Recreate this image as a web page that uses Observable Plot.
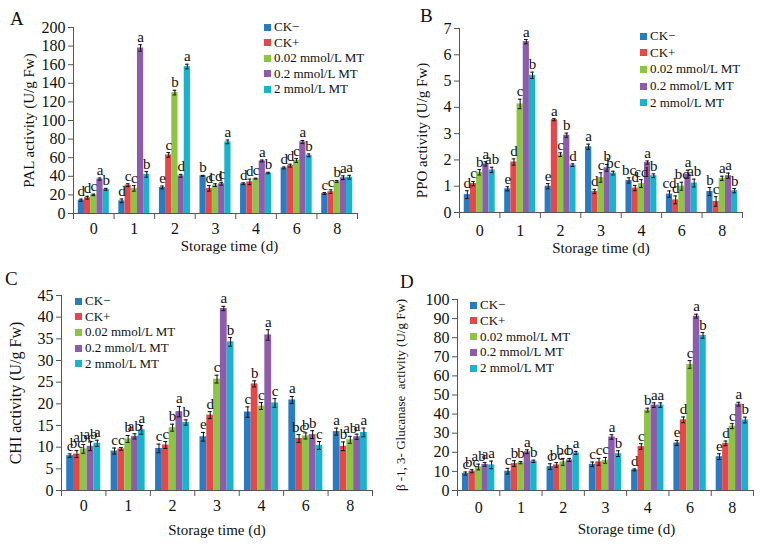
<!DOCTYPE html>
<html><head><meta charset="utf-8">
<script src="https://cdn.jsdelivr.net/npm/d3@7"></script>
<script src="https://cdn.jsdelivr.net/npm/@observablehq/plot@0.6"></script>
<style>
body{margin:0;background:#fff;}
#wrap{position:relative;width:760px;height:544px;font-family:"Liberation Serif",serif;color:#111;overflow:hidden;}
.panel{position:absolute;width:380px;height:272px;}
.panel svg{position:absolute;left:0;top:0;}
.plabel{position:absolute;font-size:19px;line-height:1;}
.leg{position:absolute;font-size:13px;line-height:1;white-space:nowrap;}
.leg span.sw{display:inline-block;width:7px;height:7px;margin-right:3px;vertical-align:middle;position:relative;top:-1px;}
</style></head>
<body><div id="wrap"></div>
<script>
// ---------- data ----------
const days = ["0", "1", "2", "3", "4", "6", "8"];
const series = ["CK\u2212", "CK+", "0.02 mmol/L MT", "0.2 mmol/L MT", "2 mmol/L MT"];
const colors = ["#2a7cc2", "#e5474a", "#8cc541", "#8d5caa", "#19b3cd"];

// PAL (rows = series, columns = days)
const palMean = [
  [14.3, 13.6, 28, 40.5, 32, 49, 21.5],
  [17, 30.5, 63, 27, 34, 51.5, 23.5],
  [20, 27, 130, 30.5, 37.5, 57, 34.5],
  [37, 178, 40.5, 32, 56.5, 77, 38.5],
  [26, 42, 158, 77, 43.5, 62.5, 39]
];
const palErr = [
  [1.2, 2, 1.5, 0.5, 1, 1, 1],
  [1.5, 1.5, 2.5, 3, 3, 1.5, 2],
  [0.8, 3, 2.5, 1.5, 0.5, 2, 1],
  [1.2, 3.5, 1.5, 1.5, 1, 1.5, 2],
  [1, 3, 2.5, 2, 0.8, 1.5, 2]
];
const palLetters = [
  ["d", "d", "e", "b", "d", "d", "c"],
  ["d", "c", "c", "d", "d", "d", "c"],
  ["c", "c", "b", "cd", "c", "c", "b"],
  ["a", "a", "d", "c", "a", "a", "a"],
  ["b", "b", "a", "a", "b", "b", "a"]
];
const palTicks = [0, 20, 40, 60, 80, 100, 120, 140, 160, 180, 200];

// PPO
const ppoMean = [
  [0.68, 0.9, 1.0, 2.5, 1.22, 0.7, 0.8],
  [1.1, 1.92, 3.53, 0.8, 0.93, 0.48, 0.42],
  [1.53, 4.13, 2.2, 1.33, 1.1, 1.0, 1.3],
  [1.85, 6.5, 2.94, 1.7, 1.9, 1.46, 1.4],
  [1.62, 5.22, 1.8, 1.5, 1.4, 1.12, 0.83]
];
const ppoErr = [
  [0.15, 0.08, 0.1, 0.1, 0.1, 0.12, 0.15],
  [0.08, 0.12, 0.04, 0.08, 0.1, 0.15, 0.18],
  [0.1, 0.18, 0.07, 0.18, 0.15, 0.15, 0.08],
  [0.08, 0.08, 0.08, 0.13, 0.06, 0.15, 0.1],
  [0.1, 0.12, 0.05, 0.07, 0.07, 0.15, 0.08]
];
const ppoLetters = [
  ["d", "e", "e", "a", "bc", "cd", "b"],
  ["c", "d", "a", "d", "d", "d", "c"],
  ["b", "c", "c", "c", "cd", "bc", "a"],
  ["a", "a", "b", "b", "a", "a", "a"],
  ["ab", "b", "d", "bc", "b", "ab", "b"]
];
const ppoTicks = [0, 1, 2, 3, 4, 5, 6, 7];

// CHI
const chiMean = [
  [8.05, 9.1, 9.7, 12.4, 18.1, 20.9, 13.6],
  [8.4, 9.6, 10.5, 17.4, 24.6, 12, 10.2],
  [9.6, 11.9, 14.5, 25.7, 19.5, 12.6, 11.7],
  [10.2, 12.5, 18.2, 42, 35.9, 12.9, 12.4],
  [10.9, 14, 15.7, 34.3, 20.2, 10.4, 13.4]
];
const chiErr = [
  [0.4, 0.7, 1, 1, 1.2, 0.8, 0.8],
  [0.8, 0.3, 0.8, 0.8, 0.7, 0.9, 1],
  [1, 0.8, 0.8, 0.9, 0.8, 0.7, 0.8],
  [1, 0.6, 1.2, 0.5, 1.2, 0.9, 0.6],
  [0.7, 1, 0.6, 1, 1, 0.9, 1]
];
const chiLetters = [
  ["c", "c", "c", "e", "c", "a", "a"],
  ["bc", "c", "c", "d", "b", "bc", "b"],
  ["abc", "b", "b", "c", "c", "b", "ab"],
  ["ab", "ab", "a", "a", "a", "b", "a"],
  ["a", "a", "b", "b", "c", "c", "a"]
];
const chiTicks = [0, 5, 10, 15, 20, 25, 30, 35, 40, 45];

// beta-1,3-Glucanase
const gluMean = [
  [8.9, 10.1, 12.5, 13.7, 10.8, 24.9, 17.7],
  [10.1, 14.1, 13.4, 15, 23, 37, 24.7],
  [12.3, 14.6, 15, 15.8, 42.1, 66, 33.7],
  [13.7, 20.3, 16, 28, 44.7, 91.3, 45.2],
  [13.4, 15.3, 19.7, 19.3, 44.7, 81.2, 36.9]
];
const gluErr = [
  [0.8, 1.5, 1.5, 1.2, 0.5, 1.3, 1.5],
  [0.8, 1.5, 1.2, 1.8, 1.5, 1.5, 1.2],
  [1.5, 0.6, 1.8, 1.5, 1, 2, 1.3],
  [1, 1, 0.8, 1.2, 1.2, 1, 1],
  [2, 0.6, 0.8, 1.5, 1.2, 1.5, 1.5]
];
const gluLetters = [
  ["c", "c", "c", "c", "d", "e", "e"],
  ["bc", "b", "bc", "c", "c", "d", "d"],
  ["ab", "b", "bc", "c", "b", "c", "c"],
  ["a", "a", "b", "a", "a", "a", "a"],
  ["a", "b", "a", "b", "a", "b", "b"]
];
const gluTicks = [0, 10, 20, 30, 40, 50, 60, 70, 80, 90, 100];

// ---------- layout / styling ----------
const panels = [
  {id: "A", left: 0, top: 0, mean: palMean, err: palErr, letters: palLetters, ticks: palTicks,
   ytitle: "PAL activity (U/g Fw)", ytitleSize: 15,
   m: {l: 73, r: 23, t: 27, b: 59}, ytx: -44, yty: 0, xtdy: 33, xtdx: 14, xlabPad: 9,
   lab: {x: 10, y: 9}, leg: {x: 264, y: 20, step: 15.5}},
  {id: "B", left: 380, top: 0, mean: ppoMean, err: ppoErr, letters: ppoLetters, ticks: ppoTicks,
   ytitle: "PPO activity (U/g Fw)", ytitleSize: 15,
   m: {l: 79, r: 18, t: 28, b: 60}, ytx: -37, yty: 10, xtdy: 36, xtdx: 0, xlabPad: 12,
   lab: {x: 40, y: 6}, leg: {x: 260, y: 29, step: 16.7}},
  {id: "C", left: 0, top: 272, mean: chiMean, err: chiErr, letters: chiLetters, ticks: chiTicks,
   ytitle: "CHI activity (U/g Fw)", ytitleSize: 16,
   m: {l: 61, r: 8, t: 23, b: 54}, ytx: -46, yty: 0, xtdy: 40, xtdx: 0, xlabPad: 9,
   lab: {x: 5, y: -3}, leg: {x: 75, y: 22, step: 15.7}},
  {id: "D", left: 380, top: 272, mean: gluMean, err: gluErr, letters: gluLetters, ticks: gluTicks,
   ytitle: "\u03b2 -1, 3- Glucanase  activity (U/g Fw)", ytitleSize: 13,
   m: {l: 77, r: 7, t: 27, b: 54}, ytx: -57, yty: 0, xtdy: 39, xtdx: 21, xlabPad: 11,
   lab: {x: 20, y: 0}, leg: {x: 90, y: 26, step: 15.8}}
];

const axisColor = "#555";
const wrap = document.getElementById("wrap");

panels.forEach(p => {
  const rows = [];
  p.mean.forEach((arr, s) => arr.forEach((v, g) => rows.push({g, s, v, e: p.err[s][g], l: p.letters[s][g]})));
  const bw = 0.153;
  const cx = d => d.g + (d.s - 2) * bw;
  const cap = 0.045;
  const ymax = p.ticks[p.ticks.length - 1];
  const groupIdx = days.map((_, i) => i);
  const bounds = days.map((_, i) => i - 0.5).concat([days.length - 0.5]);

  const chart = Plot.plot({
    width: 380, height: 272,
    marginLeft: p.m.l, marginRight: p.m.r, marginTop: p.m.t, marginBottom: p.m.b,
    x: {domain: [-0.5, days.length - 0.5], axis: null},
    y: {domain: [0, ymax], axis: null},
    color: {domain: series, range: colors},
    style: {fontFamily: "Liberation Serif, serif", fontSize: "15px", background: "white", color: "#111", overflow: "visible"},
    marks: [
      Plot.rectY(rows, {x1: d => cx(d) - bw / 2, x2: d => cx(d) + bw / 2, y: "v", fill: d => series[d.s]}),
      Plot.ruleX(rows, {x: cx, y1: d => d.v - d.e, y2: d => d.v + d.e, stroke: "#111", strokeWidth: 1}),
      Plot.ruleY(rows, {x1: d => cx(d) - cap, x2: d => cx(d) + cap, y: d => d.v + d.e, stroke: "#111", strokeWidth: 1}),
      Plot.ruleY(rows, {x1: d => cx(d) - cap, x2: d => cx(d) + cap, y: d => d.v - d.e, stroke: "#111", strokeWidth: 1}),
      Plot.text(rows, {x: cx, y: d => d.v + d.e, text: "l", lineAnchor: "bottom", dy: -3, fontSize: 15, fill: "#111"}),
      // axes
      Plot.ruleX([-0.5], {stroke: axisColor}),
      Plot.ruleY([0], {stroke: axisColor}),
      Plot.axisY({ticks: p.ticks, tickSize: 5, tickPadding: 3, tickFormat: d => String(d), stroke: axisColor, fill: "#111", fontSize: 16, label: null}),
      Plot.axisX({ticks: bounds, tickSize: 6, tickFormat: () => "", stroke: axisColor, label: null}),
      Plot.axisX({ticks: groupIdx, tickSize: 0, tickPadding: p.xlabPad, tickFormat: i => days[i], fontSize: 16, fill: "#111", label: null}),
      // titles
      Plot.text(["Storage time (d)"], {frameAnchor: "bottom", textAnchor: "middle", lineAnchor: "middle", dy: p.xtdy, dx: p.xtdx, fontSize: 15, fill: "#111"}),
      Plot.text([p.ytitle], {frameAnchor: "left", textAnchor: "middle", lineAnchor: "middle", rotate: -90, dx: p.ytx, dy: p.yty, fontSize: p.ytitleSize, fill: "#111"})
    ]
  });

  const div = document.createElement("div");
  div.className = "panel";
  div.style.left = p.left + "px";
  div.style.top = p.top + "px";
  div.appendChild(chart);

  const lab = document.createElement("div");
  lab.className = "plabel";
  lab.textContent = p.id;
  lab.style.left = p.lab.x + "px";
  lab.style.top = p.lab.y + "px";
  div.appendChild(lab);

  series.forEach((name, i) => {
    const l = document.createElement("div");
    l.className = "leg";
    l.style.left = p.leg.x + "px";
    l.style.top = (p.leg.y + i * p.leg.step) + "px";
    const sw = document.createElement("span");
    sw.className = "sw";
    sw.style.background = colors[i];
    l.appendChild(sw);
    l.appendChild(document.createTextNode(name));
    div.appendChild(l);
  });

  wrap.appendChild(div);
});
</script>
</body></html>
